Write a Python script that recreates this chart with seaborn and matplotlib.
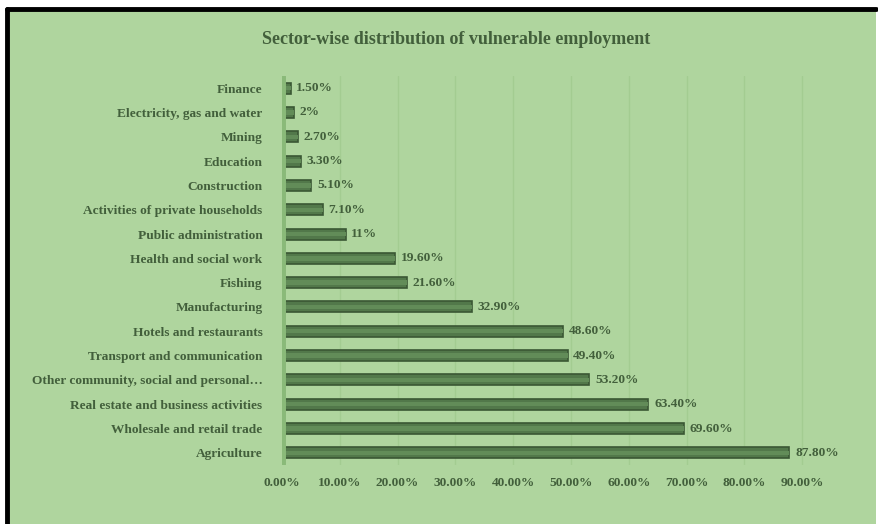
import matplotlib
matplotlib.use("Agg")
import matplotlib.pyplot as plt
import seaborn as sns
import pandas as pd
from matplotlib.patches import Rectangle
from matplotlib.lines import Line2D

sectors = ["Finance", "Electricity, gas and water", "Mining", "Education",
           "Construction", "Activities of private households",
           "Public administration", "Health and social work", "Fishing",
           "Manufacturing", "Hotels and restaurants",
           "Transport and communication",
           "Other community, social and personal\u2026",
           "Real estate and business activities",
           "Wholesale and retail trade", "Agriculture"]
values = [0.015, 0.02, 0.027, 0.033, 0.051, 0.071, 0.11, 0.196, 0.216,
          0.329, 0.486, 0.494, 0.532, 0.634, 0.696, 0.878]
value_labels = ["1.50%", "2%", "2.70%", "3.30%", "5.10%", "7.10%", "11%",
                "19.60%", "21.60%", "32.90%", "48.60%", "49.40%", "53.20%",
                "63.40%", "69.60%", "87.80%"]
xticks = [0.0, 0.1, 0.2, 0.3, 0.4, 0.5, 0.6, 0.7, 0.8, 0.9]
xtick_labels = ["0.00%", "10.00%", "20.00%", "30.00%", "40.00%", "50.00%",
                "60.00%", "70.00%", "80.00%", "90.00%"]
title = "Sector-wise distribution of vulnerable employment"

BG = "#afd59e"
BAR = "#52784a"
HIGHLIGHT = "#628c58"
EDGE = "#3a5734"
TXT = "#425f3b"
FS = 9.6

sns.set_theme(style="white")
plt.rcParams["font.family"] = ["Liberation Serif", "DejaVu Serif"]

df = pd.DataFrame({"sector": sectors, "value": values})

fig = plt.figure(figsize=(8.79, 5.24), dpi=100, facecolor="white")
# green panel with black frame
fig.patches.append(Rectangle((8 / 879, 0), 868 / 879, 1 - 10 / 524,
                             transform=fig.transFigure, facecolor=BG,
                             edgecolor="none", zorder=-10))
fig.lines.append(Line2D([7 / 879, 7 / 879], [0, 1 - 9 / 524],
                        transform=fig.transFigure, color="black", lw=3.5,
                        zorder=-5))
fig.lines.append(Line2D([7 / 879, 876 / 879], [1 - 9 / 524, 1 - 9 / 524],
                        transform=fig.transFigure, color="black", lw=3.5,
                        zorder=-5))

ax = fig.add_axes([282 / 879, 1 - 465 / 524, 578 / 879, 389 / 524])
ax.set_facecolor("none")
ax.set_zorder(5)

sns.barplot(data=df, x="value", y="sector", orient="h", ax=ax,
            color=BAR, edgecolor=EDGE, linewidth=1.2, width=0.45,
            saturation=1)
# cylinder-like highlight
sns.barplot(data=df, x="value", y="sector", orient="h", ax=ax,
            color=HIGHLIGHT, linewidth=0, width=0.18, saturation=1)

ax.set_xlim(0, 1.0)
ax.set_ylim(15.5, -0.5)
ax.set_xticks(xticks)
ax.set_xticklabels(xtick_labels)
ax.set_xlabel("")
ax.set_ylabel("")

for s in ax.spines.values():
    s.set_visible(False)

ax.grid(axis="x", color="#a3cc91", lw=1.0)
ax.set_axisbelow(True)
ax.axvline(0, color="#8aba79", lw=5, zorder=1)

ax.tick_params(axis="both", length=0, colors=TXT)
ax.tick_params(axis="y", pad=14, labelsize=FS)
ax.tick_params(axis="x", pad=9, labelsize=FS)
for lab in ax.get_yticklabels() + ax.get_xticklabels():
    lab.set_fontweight("bold")
    lab.set_color(TXT)

for i, (v, t) in enumerate(zip(values, value_labels)):
    ax.annotate(t, (v, i), xytext=(4, 0), textcoords="offset points",
                va="center", ha="left", fontsize=FS, fontweight="bold",
                color=TXT)

fig.text(456 / 879, 1 - 40 / 524, title, ha="center", va="center",
         fontsize=13, fontweight="bold", color=TXT)

fig.savefig("out.png", dpi=100, facecolor="white")
